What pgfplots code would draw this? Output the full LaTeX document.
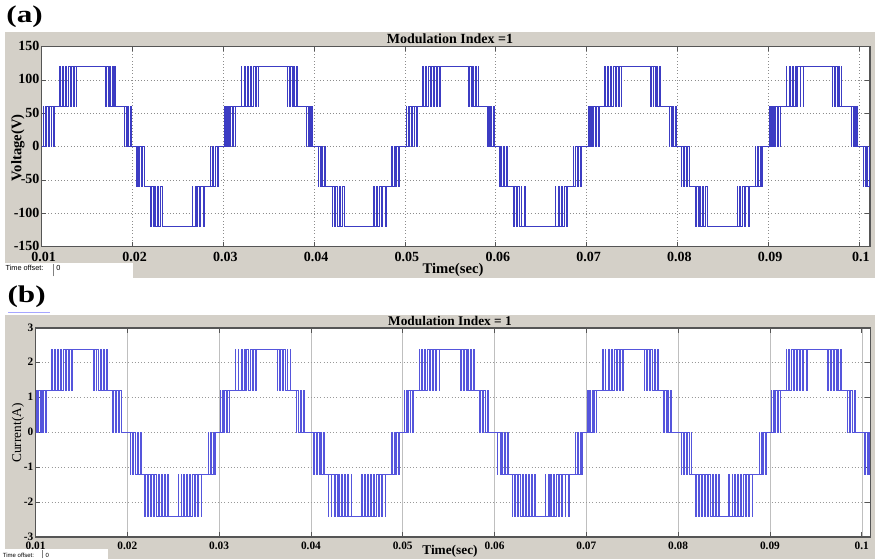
\documentclass[border=0pt]{standalone}
\usepackage{graphicx}
\usepackage{pgfplots}
\pgfplotsset{compat=1.18}
\usepackage{fontspec}
\setmainfont{Liberation Serif}
\newfontfamily\guifont{Liberation Sans}
\definecolor{winbg}{RGB}{212,208,200}
\definecolor{vblue}{RGB}{60,60,195}
\definecolor{cblue}{RGB}{85,85,220}
\definecolor{axframe}{RGB}{85,85,85}

\pgfplotstableread[row sep=\\]{
t v\\
10 0\\ 10.18 60\\ 10.21 0\\ 10.36 60\\ 10.45 0\\ 10.55 60\\ 10.70 0\\ 10.80 60\\ 11.02 0\\ 11.10 60\\ 11.30 0\\ 11.38 60\\
11.98 120\\ 12.03 60\\ 12.30 120\\ 12.40 60\\ 12.62 120\\ 12.78 60\\ 12.95 120\\ 13.15 60\\ 13.28 120\\ 13.52 60\\ 13.60 120\\ 13.84 60\\ 13.88 120\\
17.05 60\\ 17.10 120\\ 17.32 60\\ 17.42 120\\ 17.58 60\\ 17.75 120\\ 17.85 60\\ 18.05 120\\ 18.12 60\\
19.12 0\\ 19.16 60\\ 19.35 0\\ 19.45 60\\ 19.58 0\\ 19.75 60\\ 19.85 0\\
20.45 -60\\ 20.50 0\\ 20.68 -60\\ 20.80 0\\ 20.95 -60\\ 21.15 0\\ 21.30 -60\\
22.00 -120\\ 22.05 -60\\ 22.28 -120\\ 22.40 -60\\ 22.58 -120\\ 22.78 -60\\ 22.88 -120\\ 23.12 -60\\ 23.30 -120\\
26.58 -60\\ 26.63 -120\\ 26.88 -60\\ 27.00 -120\\ 27.20 -60\\ 27.40 -120\\ 27.52 -60\\ 27.82 -120\\ 27.95 -60\\
28.56 0\\ 28.61 -60\\ 28.82 0\\ 28.95 -60\\ 29.10 0\\ 29.30 -60\\ 29.42 0\\
30.18 60\\ 30.21 0\\ 30.36 60\\ 30.45 0\\ 30.55 60\\ 30.70 0\\ 30.80 60\\ 31.02 0\\ 31.10 60\\ 31.30 0\\ 31.38 60\\
31.98 120\\ 32.03 60\\ 32.30 120\\ 32.40 60\\ 32.62 120\\ 32.78 60\\ 32.95 120\\ 33.15 60\\ 33.28 120\\ 33.52 60\\ 33.60 120\\ 33.84 60\\ 33.88 120\\
37.05 60\\ 37.10 120\\ 37.32 60\\ 37.42 120\\ 37.58 60\\ 37.75 120\\ 37.85 60\\ 38.05 120\\ 38.12 60\\
39.12 0\\ 39.16 60\\ 39.35 0\\ 39.45 60\\ 39.58 0\\ 39.75 60\\ 39.85 0\\
40.45 -60\\ 40.50 0\\ 40.68 -60\\ 40.80 0\\ 40.95 -60\\ 41.15 0\\ 41.30 -60\\
42.00 -120\\ 42.05 -60\\ 42.28 -120\\ 42.40 -60\\ 42.58 -120\\ 42.78 -60\\ 42.88 -120\\ 43.12 -60\\ 43.30 -120\\
46.58 -60\\ 46.63 -120\\ 46.88 -60\\ 47.00 -120\\ 47.20 -60\\ 47.40 -120\\ 47.52 -60\\ 47.82 -120\\ 47.95 -60\\
48.56 0\\ 48.61 -60\\ 48.82 0\\ 48.95 -60\\ 49.10 0\\ 49.30 -60\\ 49.42 0\\
50.18 60\\ 50.21 0\\ 50.36 60\\ 50.45 0\\ 50.55 60\\ 50.70 0\\ 50.80 60\\ 51.02 0\\ 51.10 60\\ 51.30 0\\ 51.38 60\\
51.98 120\\ 52.03 60\\ 52.30 120\\ 52.40 60\\ 52.62 120\\ 52.78 60\\ 52.95 120\\ 53.15 60\\ 53.28 120\\ 53.52 60\\ 53.60 120\\ 53.84 60\\ 53.88 120\\
57.05 60\\ 57.10 120\\ 57.32 60\\ 57.42 120\\ 57.58 60\\ 57.75 120\\ 57.85 60\\ 58.05 120\\ 58.12 60\\
59.12 0\\ 59.16 60\\ 59.35 0\\ 59.45 60\\ 59.58 0\\ 59.75 60\\ 59.85 0\\
60.45 -60\\ 60.50 0\\ 60.68 -60\\ 60.80 0\\ 60.95 -60\\ 61.15 0\\ 61.30 -60\\
62.00 -120\\ 62.05 -60\\ 62.28 -120\\ 62.40 -60\\ 62.58 -120\\ 62.78 -60\\ 62.88 -120\\ 63.12 -60\\ 63.30 -120\\
66.58 -60\\ 66.63 -120\\ 66.88 -60\\ 67.00 -120\\ 67.20 -60\\ 67.40 -120\\ 67.52 -60\\ 67.82 -120\\ 67.95 -60\\
68.56 0\\ 68.61 -60\\ 68.82 0\\ 68.95 -60\\ 69.10 0\\ 69.30 -60\\ 69.42 0\\
70.18 60\\ 70.21 0\\ 70.36 60\\ 70.45 0\\ 70.55 60\\ 70.70 0\\ 70.80 60\\ 71.02 0\\ 71.10 60\\ 71.30 0\\ 71.38 60\\
71.98 120\\ 72.03 60\\ 72.30 120\\ 72.40 60\\ 72.62 120\\ 72.78 60\\ 72.95 120\\ 73.15 60\\ 73.28 120\\ 73.52 60\\ 73.60 120\\ 73.84 60\\ 73.88 120\\
77.05 60\\ 77.10 120\\ 77.32 60\\ 77.42 120\\ 77.58 60\\ 77.75 120\\ 77.85 60\\ 78.05 120\\ 78.12 60\\
79.12 0\\ 79.16 60\\ 79.35 0\\ 79.45 60\\ 79.58 0\\ 79.75 60\\ 79.85 0\\
80.45 -60\\ 80.50 0\\ 80.68 -60\\ 80.80 0\\ 80.95 -60\\ 81.15 0\\ 81.30 -60\\
82.00 -120\\ 82.05 -60\\ 82.28 -120\\ 82.40 -60\\ 82.58 -120\\ 82.78 -60\\ 82.88 -120\\ 83.12 -60\\ 83.30 -120\\
86.58 -60\\ 86.63 -120\\ 86.88 -60\\ 87.00 -120\\ 87.20 -60\\ 87.40 -120\\ 87.52 -60\\ 87.82 -120\\ 87.95 -60\\
88.56 0\\ 88.61 -60\\ 88.82 0\\ 88.95 -60\\ 89.10 0\\ 89.30 -60\\ 89.42 0\\
90.18 60\\ 90.21 0\\ 90.36 60\\ 90.45 0\\ 90.55 60\\ 90.70 0\\ 90.80 60\\ 91.02 0\\ 91.10 60\\ 91.30 0\\ 91.38 60\\
91.98 120\\ 92.03 60\\ 92.30 120\\ 92.40 60\\ 92.62 120\\ 92.78 60\\ 92.95 120\\ 93.15 60\\ 93.28 120\\ 93.52 60\\ 93.60 120\\ 93.84 60\\ 93.88 120\\
97.05 60\\ 97.10 120\\ 97.32 60\\ 97.42 120\\ 97.58 60\\ 97.75 120\\ 97.85 60\\ 98.05 120\\ 98.12 60\\
99.12 0\\ 99.16 60\\ 99.35 0\\ 99.45 60\\ 99.58 0\\ 99.75 60\\ 99.85 0\\
100.45 -60\\ 100.50 0\\ 100.68 -60\\ 100.80 0\\ 100.95 -60\\ 101.15 0\\ 101.30 -60\\ 102 -60\\
}\voltdata

\pgfplotstableread[row sep=\\]{
t v\\
10 0\\ 10.13 1.2\\ 10.18 0\\ 10.35 1.2\\ 10.48 0\\ 10.62 1.2\\ 10.80 0\\ 10.88 1.2\\ 11.08 0\\ 11.14 1.2\\
11.76 2.4\\ 11.80 1.2\\ 12.05 2.4\\ 12.12 1.2\\ 12.38 2.4\\ 12.50 1.2\\ 12.70 2.4\\ 12.86 1.2\\ 13.02 2.4\\ 13.22 1.2\\ 13.35 2.4\\ 13.58 1.2\\ 13.68 2.4\\ 13.95 1.2\\ 14.02 2.4\\
16.30 1.2\\ 16.36 2.4\\ 16.58 1.2\\ 16.68 2.4\\ 16.88 1.2\\ 17.02 2.4\\ 17.18 1.2\\ 17.38 2.4\\ 17.48 1.2\\ 17.72 2.4\\ 17.80 1.2\\
18.40 0\\ 18.45 1.2\\ 18.68 0\\ 18.80 1.2\\ 18.98 0\\ 19.18 1.2\\ 19.30 0\\
20.30 -1.2\\ 20.35 0\\ 20.58 -1.2\\ 20.70 0\\ 20.88 -1.2\\ 21.05 0\\ 21.18 -1.2\\ 21.40 0\\ 21.48 -1.2\\
21.90 -2.4\\ 21.95 -1.2\\ 22.20 -2.4\\ 22.28 -1.2\\ 22.52 -2.4\\ 22.63 -1.2\\ 22.84 -2.4\\ 22.98 -1.2\\ 23.15 -2.4\\ 23.33 -1.2\\ 23.47 -2.4\\ 23.68 -1.2\\ 23.79 -2.4\\ 24.02 -1.2\\ 24.12 -2.4\\ 24.38 -1.2\\ 24.44 -2.4\\
25.52 -1.2\\ 25.55 -2.4\\
25.85 -1.2\\ 25.92 -2.4\\ 26.10 -1.2\\ 26.22 -2.4\\ 26.42 -1.2\\ 26.56 -2.4\\ 26.75 -1.2\\ 26.92 -2.4\\ 27.08 -1.2\\ 27.30 -2.4\\ 27.42 -1.2\\ 27.68 -2.4\\ 27.75 -1.2\\ 28.06 -2.4\\ 28.12 -1.2\\
28.80 0\\ 28.85 -1.2\\ 29.05 0\\ 29.16 -1.2\\ 29.32 0\\ 29.50 -1.2\\ 29.62 0\\
30.13 1.2\\ 30.18 0\\ 30.35 1.2\\ 30.48 0\\ 30.62 1.2\\ 30.80 0\\ 30.88 1.2\\ 31.08 0\\ 31.14 1.2\\
31.76 2.4\\ 31.80 1.2\\ 32.05 2.4\\ 32.12 1.2\\ 32.38 2.4\\ 32.50 1.2\\ 32.70 2.4\\ 32.86 1.2\\ 33.02 2.4\\ 33.22 1.2\\ 33.35 2.4\\ 33.58 1.2\\ 33.68 2.4\\ 33.95 1.2\\ 34.02 2.4\\
36.30 1.2\\ 36.36 2.4\\ 36.58 1.2\\ 36.68 2.4\\ 36.88 1.2\\ 37.02 2.4\\ 37.18 1.2\\ 37.38 2.4\\ 37.48 1.2\\ 37.72 2.4\\ 37.80 1.2\\
38.40 0\\ 38.45 1.2\\ 38.68 0\\ 38.80 1.2\\ 38.98 0\\ 39.18 1.2\\ 39.30 0\\
40.30 -1.2\\ 40.35 0\\ 40.58 -1.2\\ 40.70 0\\ 40.88 -1.2\\ 41.05 0\\ 41.18 -1.2\\ 41.40 0\\ 41.48 -1.2\\
41.90 -2.4\\ 41.95 -1.2\\ 42.20 -2.4\\ 42.28 -1.2\\ 42.52 -2.4\\ 42.63 -1.2\\ 42.84 -2.4\\ 42.98 -1.2\\ 43.15 -2.4\\ 43.33 -1.2\\ 43.47 -2.4\\ 43.68 -1.2\\ 43.79 -2.4\\ 44.02 -1.2\\ 44.12 -2.4\\ 44.38 -1.2\\ 44.44 -2.4\\
45.52 -1.2\\ 45.55 -2.4\\
45.85 -1.2\\ 45.92 -2.4\\ 46.10 -1.2\\ 46.22 -2.4\\ 46.42 -1.2\\ 46.56 -2.4\\ 46.75 -1.2\\ 46.92 -2.4\\ 47.08 -1.2\\ 47.30 -2.4\\ 47.42 -1.2\\ 47.68 -2.4\\ 47.75 -1.2\\ 48.06 -2.4\\ 48.12 -1.2\\
48.80 0\\ 48.85 -1.2\\ 49.05 0\\ 49.16 -1.2\\ 49.32 0\\ 49.50 -1.2\\ 49.62 0\\
50.13 1.2\\ 50.18 0\\ 50.35 1.2\\ 50.48 0\\ 50.62 1.2\\ 50.80 0\\ 50.88 1.2\\ 51.08 0\\ 51.14 1.2\\
51.76 2.4\\ 51.80 1.2\\ 52.05 2.4\\ 52.12 1.2\\ 52.38 2.4\\ 52.50 1.2\\ 52.70 2.4\\ 52.86 1.2\\ 53.02 2.4\\ 53.22 1.2\\ 53.35 2.4\\ 53.58 1.2\\ 53.68 2.4\\ 53.95 1.2\\ 54.02 2.4\\
56.30 1.2\\ 56.36 2.4\\ 56.58 1.2\\ 56.68 2.4\\ 56.88 1.2\\ 57.02 2.4\\ 57.18 1.2\\ 57.38 2.4\\ 57.48 1.2\\ 57.72 2.4\\ 57.80 1.2\\
58.40 0\\ 58.45 1.2\\ 58.68 0\\ 58.80 1.2\\ 58.98 0\\ 59.18 1.2\\ 59.30 0\\
60.30 -1.2\\ 60.35 0\\ 60.58 -1.2\\ 60.70 0\\ 60.88 -1.2\\ 61.05 0\\ 61.18 -1.2\\ 61.40 0\\ 61.48 -1.2\\
61.90 -2.4\\ 61.95 -1.2\\ 62.20 -2.4\\ 62.28 -1.2\\ 62.52 -2.4\\ 62.63 -1.2\\ 62.84 -2.4\\ 62.98 -1.2\\ 63.15 -2.4\\ 63.33 -1.2\\ 63.47 -2.4\\ 63.68 -1.2\\ 63.79 -2.4\\ 64.02 -1.2\\ 64.12 -2.4\\ 64.38 -1.2\\ 64.44 -2.4\\
65.52 -1.2\\ 65.55 -2.4\\
65.85 -1.2\\ 65.92 -2.4\\ 66.10 -1.2\\ 66.22 -2.4\\ 66.42 -1.2\\ 66.56 -2.4\\ 66.75 -1.2\\ 66.92 -2.4\\ 67.08 -1.2\\ 67.30 -2.4\\ 67.42 -1.2\\ 67.68 -2.4\\ 67.75 -1.2\\ 68.06 -2.4\\ 68.12 -1.2\\
68.80 0\\ 68.85 -1.2\\ 69.05 0\\ 69.16 -1.2\\ 69.32 0\\ 69.50 -1.2\\ 69.62 0\\
70.13 1.2\\ 70.18 0\\ 70.35 1.2\\ 70.48 0\\ 70.62 1.2\\ 70.80 0\\ 70.88 1.2\\ 71.08 0\\ 71.14 1.2\\
71.76 2.4\\ 71.80 1.2\\ 72.05 2.4\\ 72.12 1.2\\ 72.38 2.4\\ 72.50 1.2\\ 72.70 2.4\\ 72.86 1.2\\ 73.02 2.4\\ 73.22 1.2\\ 73.35 2.4\\ 73.58 1.2\\ 73.68 2.4\\ 73.95 1.2\\ 74.02 2.4\\
76.30 1.2\\ 76.36 2.4\\ 76.58 1.2\\ 76.68 2.4\\ 76.88 1.2\\ 77.02 2.4\\ 77.18 1.2\\ 77.38 2.4\\ 77.48 1.2\\ 77.72 2.4\\ 77.80 1.2\\
78.40 0\\ 78.45 1.2\\ 78.68 0\\ 78.80 1.2\\ 78.98 0\\ 79.18 1.2\\ 79.30 0\\
80.30 -1.2\\ 80.35 0\\ 80.58 -1.2\\ 80.70 0\\ 80.88 -1.2\\ 81.05 0\\ 81.18 -1.2\\ 81.40 0\\ 81.48 -1.2\\
81.90 -2.4\\ 81.95 -1.2\\ 82.20 -2.4\\ 82.28 -1.2\\ 82.52 -2.4\\ 82.63 -1.2\\ 82.84 -2.4\\ 82.98 -1.2\\ 83.15 -2.4\\ 83.33 -1.2\\ 83.47 -2.4\\ 83.68 -1.2\\ 83.79 -2.4\\ 84.02 -1.2\\ 84.12 -2.4\\ 84.38 -1.2\\ 84.44 -2.4\\
85.52 -1.2\\ 85.55 -2.4\\
85.85 -1.2\\ 85.92 -2.4\\ 86.10 -1.2\\ 86.22 -2.4\\ 86.42 -1.2\\ 86.56 -2.4\\ 86.75 -1.2\\ 86.92 -2.4\\ 87.08 -1.2\\ 87.30 -2.4\\ 87.42 -1.2\\ 87.68 -2.4\\ 87.75 -1.2\\ 88.06 -2.4\\ 88.12 -1.2\\
88.80 0\\ 88.85 -1.2\\ 89.05 0\\ 89.16 -1.2\\ 89.32 0\\ 89.50 -1.2\\ 89.62 0\\
90.13 1.2\\ 90.18 0\\ 90.35 1.2\\ 90.48 0\\ 90.62 1.2\\ 90.80 0\\ 90.88 1.2\\ 91.08 0\\ 91.14 1.2\\
91.76 2.4\\ 91.80 1.2\\ 92.05 2.4\\ 92.12 1.2\\ 92.38 2.4\\ 92.50 1.2\\ 92.70 2.4\\ 92.86 1.2\\ 93.02 2.4\\ 93.22 1.2\\ 93.35 2.4\\ 93.58 1.2\\ 93.68 2.4\\ 93.95 1.2\\ 94.02 2.4\\
96.30 1.2\\ 96.36 2.4\\ 96.58 1.2\\ 96.68 2.4\\ 96.88 1.2\\ 97.02 2.4\\ 97.18 1.2\\ 97.38 2.4\\ 97.48 1.2\\ 97.72 2.4\\ 97.80 1.2\\
98.40 0\\ 98.45 1.2\\ 98.68 0\\ 98.80 1.2\\ 98.98 0\\ 99.18 1.2\\ 99.30 0\\
100.30 -1.2\\ 100.35 0\\ 100.58 -1.2\\ 100.70 0\\ 100.88 -1.2\\ 101.05 0\\ 101.18 -1.2\\ 102 -1.2\\
}\currdata

\begin{document}
\begin{tikzpicture}
\path[use as bounding box] (0,0) rectangle (659.25pt,419.25pt);
% window backgrounds
\fill[winbg] (3.75pt,222pt) rectangle (656.25pt,395.25pt);
\fill[winbg] (99.75pt,210.75pt) rectangle (656.25pt,222pt);
\fill[winbg] (3.75pt,0pt) rectangle (656.25pt,183pt);
\fill[white] (0pt,0pt) rectangle (81pt,7.5pt);
\draw[blue!35, line width=0.6pt] (6pt,185.25pt) -- (37.5pt,185.25pt);

% ---------- panel (a)
\begin{axis}[at={(31.28pt,234.23pt)}, anchor=south west, scale only axis,
  width=621.2pt, height=150pt,
  xmin=10, xmax=101.21, ymin=-150, ymax=150,
  xtick={10,20,30,40,50,60,70,80,90,100},
  xticklabels={0.01,0.02,0.03,0.04,0.05,0.06,0.07,0.08,0.09,0.1},
  ytick={-150,-100,-50,0,50,100,150},
  yticklabels={-150,-100,-50,0,50,100,150},
  tick align=inside, major tick length=3.5pt,
  tick style={axframe, line width=0.6pt},
  grid=major, grid style={dotted, line width=0.6pt, black!45},
  axis line style={axframe, line width=0.8pt},
  axis background/.style={fill=white},
  ticklabel style={font=\fontsize{10.5}{10.5}\selectfont\bfseries},
  xticklabel style={inner sep=1.5pt, yshift=-2.6pt, xshift=1.5pt},
  yticklabel style={inner sep=1.5pt, yshift=0.5pt}]
\addplot[const plot mark left, vblue, line width=0.7pt] table[x=t, y=v] {\voltdata};
\end{axis}

% ---------- panel (b)
\begin{axis}[at={(26.63pt,16.5pt)}, anchor=south west, scale only axis,
  width=625.9pt, height=156.75pt,
  xmin=10, xmax=100.9, ymin=-3, ymax=3,
  xtick={10,20,30,40,50,60,70,80,90,100},
  xticklabels={0.01,0.02,0.03,0.04,0.05,0.06,0.07,0.08,0.09,0.1},
  ytick={-3,-2,-1,0,1,2,3},
  yticklabels={-3,-2,-1,0,1,2,3},
  tick align=inside, major tick length=3.5pt,
  tick style={axframe, line width=0.6pt},
  xmajorgrids, ymajorgrids,
  x grid style={solid, line width=0.4pt, black!25},
  y grid style={dotted, line width=0.6pt, black!40},
  axis line style={axframe, line width=0.8pt},
  axis background/.style={fill=white},
  ticklabel style={font=\fontsize{8.5}{8.5}\selectfont\bfseries},
  xticklabel style={inner sep=1.5pt, yshift=-2pt},
  yticklabel style={inner sep=1.5pt, yshift=0.5pt}]
\addplot[const plot mark left, cblue, line width=0.55pt] table[x=t, y=v] {\currdata};
\end{axis}

% ---------- texts
\node[font=\fontsize{18}{18}\selectfont\bfseries] at (18.5pt,406.5pt) {\scalebox{1.3}[1]{(a)}};
\node[font=\fontsize{18}{18}\selectfont\bfseries] at (20pt,196.5pt) {\scalebox{1.3}[1]{(b)}};
\node[font=\fontsize{10.5}{10.5}\selectfont\bfseries] at (337.5pt,390pt) {Modulation Index =1};
\node[font=\fontsize{10}{10}\selectfont\bfseries] at (337.5pt,178.5pt) {Modulation Index = 1};
\node[font=\fontsize{11}{11}\selectfont\bfseries] at (339.75pt,216.75pt) {Time(sec)};
\node[font=\fontsize{10}{10}\selectfont\bfseries] at (337.5pt,5.5pt) {Time(sec)};
\node[rotate=90, font=\fontsize{11}{11}\selectfont\bfseries] at (13.5pt,308.25pt) {Voltage(V)};
\node[rotate=90, font=\fontsize{10}{10}\selectfont] at (13.5pt,94.5pt) {Current(A)};
% time offset fields
\node[anchor=west, inner sep=0, font=\guifont\fontsize{5.5}{6}\selectfont] at (4pt,218.25pt) {Time offset:};
\draw[black!50, line width=0.4pt] (39.75pt,212pt) -- (39.75pt,221pt);
\node[anchor=west, inner sep=0, font=\guifont\fontsize{5.5}{6}\selectfont] at (42pt,218.25pt) {0};
\node[anchor=west, inner sep=0, font=\guifont\fontsize{4.5}{5}\selectfont] at (2pt,3pt) {Time offset:};
\draw[black!50, line width=0.4pt] (32pt,0.5pt) -- (32pt,6.5pt);
\node[anchor=west, inner sep=0, font=\guifont\fontsize{4.5}{5}\selectfont] at (34pt,3pt) {0};
\end{tikzpicture}
\end{document}
